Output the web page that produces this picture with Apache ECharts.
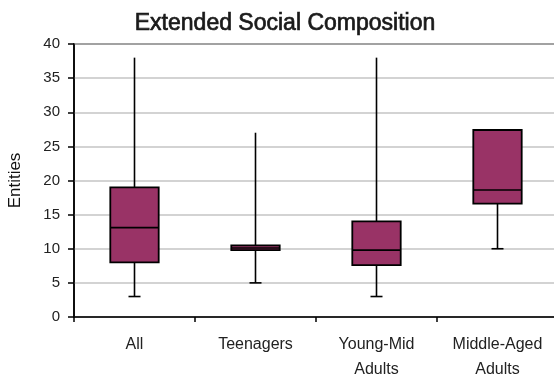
<!DOCTYPE html>
<html>
<head>
<meta charset="utf-8">
<script src="https://cdn.jsdelivr.net/npm/echarts@6/dist/echarts.min.js"></script>
<style>
html, body { margin: 0; padding: 0; background: #fff; }
#chart { width: 554px; height: 379px; }
</style>
</head>
<body>
<div id="chart"></div>
<script>
// Groups along the x axis
const categories = ['All', 'Teenagers', 'Young-Mid\nAdults', 'Middle-Aged\nAdults'];
// Five-number summary per group
const minValues    = [3, 5, 3, 10];
const q1Values     = [8, 9.8, 7.6, 16.6];
const medianValues = [13.1, 10.1, 9.8, 18.6];
const q3Values     = [19, 10.5, 14, 27.4];
const maxValues    = [38, 27, 38, 27.4];
// Value axis ticks
const yTicks = [0, 5, 10, 15, 20, 25, 30, 35, 40];

const boxData = categories.map((c, i) => [i, minValues[i], q1Values[i], medianValues[i], q3Values[i], maxValues[i]]);

const FONT = '"Liberation Sans", Arial, sans-serif';

// Box with a vertical whisker, a cap on the low end only, and a median bar
function renderBox(params, api) {
  const idx = api.value(0);
  const pMin = api.coord([idx, api.value(1)]);
  const pQ1 = api.coord([idx, api.value(2)]);
  const pMed = api.coord([idx, api.value(3)]);
  const pQ3 = api.coord([idx, api.value(4)]);
  const pMax = api.coord([idx, api.value(5)]);
  const band = api.size([1, 0])[0];
  const half = band * 0.2;
  const cap = 6;
  const x = pQ1[0];
  const lineStyle = { stroke: '#000', lineWidth: 1.6 };
  return {
    type: 'group',
    children: [
      { type: 'line', shape: { x1: x, y1: pMax[1], x2: x, y2: pMin[1] }, style: lineStyle },
      { type: 'line', shape: { x1: x - cap, y1: pMin[1], x2: x + cap, y2: pMin[1] }, style: lineStyle },
      { type: 'rect', shape: { x: x - half, y: pQ3[1], width: half * 2, height: pQ1[1] - pQ3[1] },
        style: { fill: '#993366', stroke: '#000', lineWidth: 1.8 } },
      { type: 'line', shape: { x1: x - half, y1: pMed[1], x2: x + half, y2: pMed[1] }, style: lineStyle }
    ]
  };
}

const chart = echarts.init(document.getElementById('chart'));
chart.setOption({
  animation: false,
  backgroundColor: '#fff',
  title: {
    text: 'Extended Social Composition',
    left: 280, top: 7, textAlign: 'center',
    textStyle: {
      fontFamily: FONT, fontSize: 23, fontWeight: 'normal', color: '#1a1a1a',
      textBorderColor: '#1a1a1a', textBorderWidth: 0.7
    }
  },
  grid: {
    left: 74, right: -4, top: 44, bottom: 62,
    outerBoundsMode: 'none', containLabel: false,
    show: true, borderColor: '#000', borderWidth: 1.5, backgroundColor: 'transparent'
  },
  xAxis: {
    type: 'category',
    data: categories,
    boundaryGap: true,
    axisLine: { lineStyle: { color: '#000', width: 1.5 } },
    axisTick: { show: true, length: 5, lineStyle: { color: '#000', width: 1.5 } },
    axisLabel: { fontFamily: FONT, fontSize: 16, color: '#222', margin: 15, lineHeight: 25 }
  },
  yAxis: {
    type: 'value',
    min: yTicks[0], max: yTicks[yTicks.length - 1], interval: 5,
    name: 'Entities', nameLocation: 'middle', nameGap: 50, nameRotate: 90,
    nameTextStyle: { fontFamily: FONT, fontSize: 17, color: '#111' },
    axisLine: { show: true, lineStyle: { color: '#000', width: 1.5 } },
    axisTick: { show: true, inside: false, length: 6, lineStyle: { color: '#000', width: 1.5 } },
    axisLabel: { fontFamily: FONT, fontSize: 15, color: '#222', margin: 14 },
    splitLine: { show: true, lineStyle: { color: '#c4c4c4', width: 1.5 } }
  },
  series: [{
    type: 'custom',
    renderItem: renderBox,
    encode: { x: 0, y: [1, 2, 3, 4, 5] },
    data: boxData,
    z: 3
  }]
});
</script>
</body>
</html>
